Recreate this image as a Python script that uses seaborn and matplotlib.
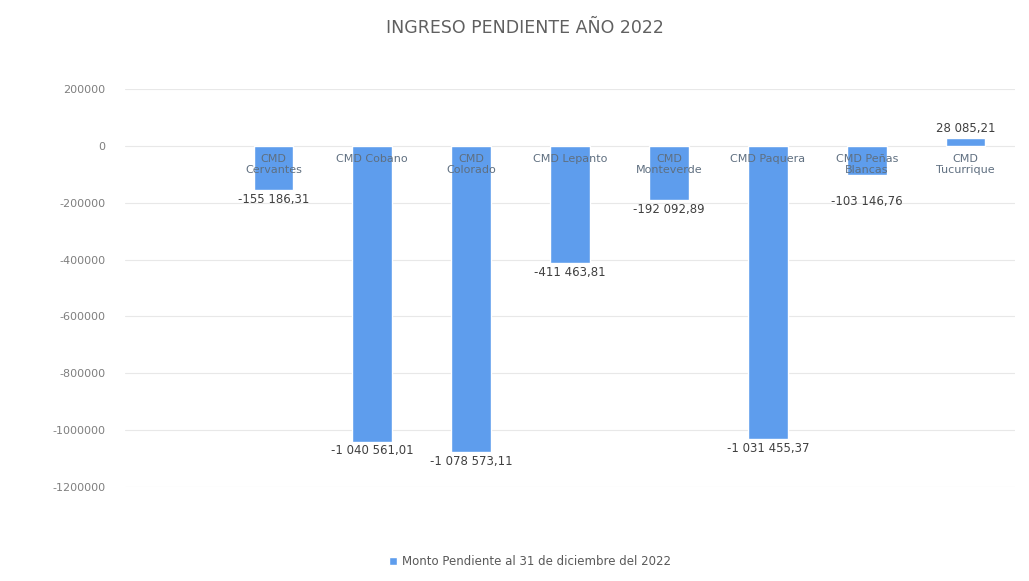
import matplotlib.pyplot as plt
from matplotlib.transforms import offset_copy
import seaborn as sns
import pandas as pd

# Data
centros = ['CMD\nCervantes', 'CMD Cobano', 'CMD\nColorado', 'CMD Lepanto',
           'CMD\nMonteverde', 'CMD Paquera', 'CMD Peñas\nBlancas', 'CMD\nTucurrique']
montos = [-155186.31, -1040561.01, -1078573.11, -411463.81,
          -192092.89, -1031455.37, -103146.76, 28085.21]
y_ticks = [200000, 0, -200000, -400000, -600000, -800000, -1000000, -1200000]
serie = 'Monto Pendiente al 31 de diciembre del 2022'
titulo = 'INGRESO PENDIENTE AÑO 2022'

df = pd.DataFrame({'centro': centros, 'monto': montos})

sns.set_style('white')
plt.rcParams['font.family'] = ['DejaVu Sans']

fig = plt.figure(figsize=(10.29, 5.81), dpi=100)
ax = fig.add_axes([0.1215, 0.1618, 0.865, 0.685])

sns.barplot(data=df, x='centro', y='monto', color='#5e9ded', saturation=1,
            width=0.4, label=serie, ax=ax)

# value labels, es-CR number format
# short negative bars get their label pushed below the category text
fmt = lambda v: f'{v:,.2f}'.replace(',', ' ').replace('.', ',')
corto = [-150000 < v < 0 for v in montos]
ax.bar_label(ax.containers[0], labels=['' if c else fmt(v) for v, c in zip(montos, corto)],
             padding=2, fontsize=8.5, color='#404040')
ax.bar_label(ax.containers[0], labels=[fmt(v) if c else '' for v, c in zip(montos, corto)],
             padding=14, fontsize=8.5, color='#404040')

ax.set_xlim(-1.5, 7.5)
ax.set_ylim(-1200000, 200000)
ax.set_yticks(y_ticks)
ax.set_yticklabels([str(t) for t in y_ticks])
ax.grid(axis='y', color='#e8e8e8', linewidth=0.8)
ax.set_axisbelow(True)

# category labels drawn over the bars, just under the zero line
ax.set_xticks([])
below = offset_copy(ax.transData, fig=fig, x=0, y=-6, units='points')
for i, c in enumerate(centros):
    ax.text(i, 0, c, transform=below, ha='center', va='top', fontsize=8,
            color='#5f6f80', linespacing=1.15, zorder=5)

for s in ['top', 'right', 'left', 'bottom']:
    ax.spines[s].set_visible(False)
ax.tick_params(axis='y', length=0, pad=14, labelsize=8, labelcolor='#7f7f7f')
ax.set_xlabel('')
ax.set_ylabel('')

fig.suptitle(titulo, x=0.51, y=0.968, fontsize=12.5, color='#606060')
ax.legend(loc='upper center', bbox_to_anchor=(0.455, -0.145), frameon=False,
          fontsize=8.5, labelcolor='#595959', handlelength=0.7, handleheight=0.7,
          handletextpad=0.4)

plt.savefig('out.png', dpi=100)
plt.close()
